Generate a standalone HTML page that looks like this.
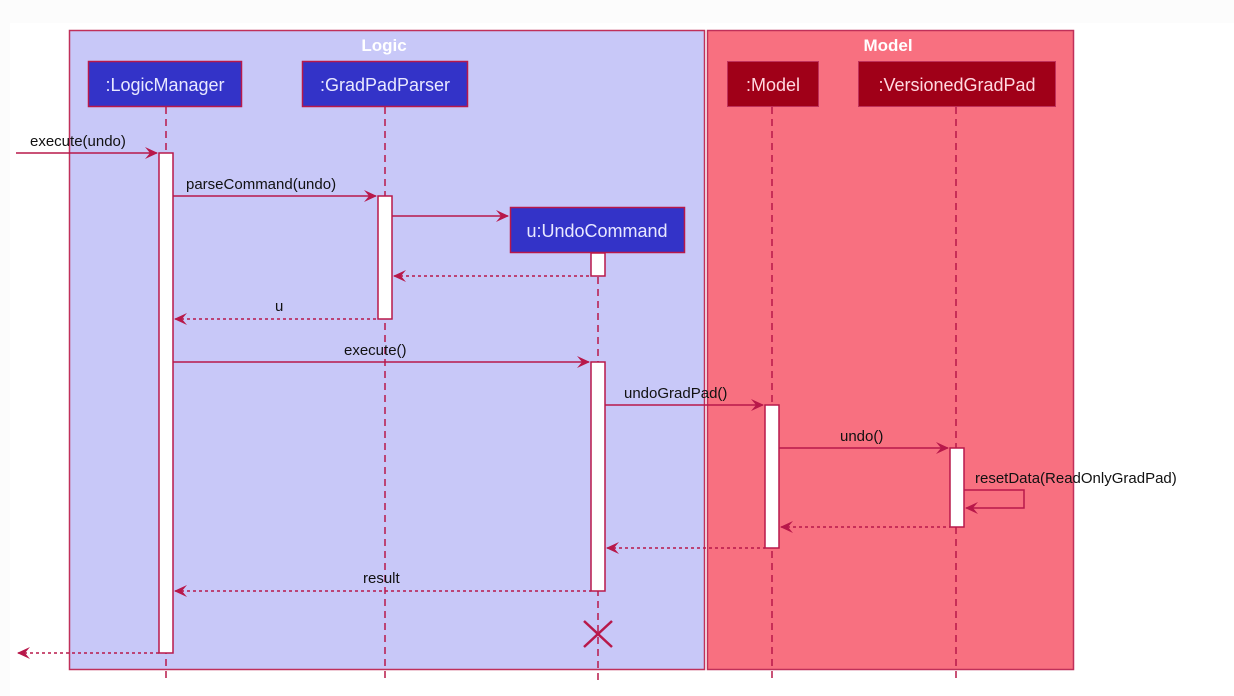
<!DOCTYPE html>
<html><head><meta charset="utf-8"><style>
html,body{margin:0;padding:0;background:#fcfcfc;}
svg{display:block;font-family:"Liberation Sans",sans-serif;}
</style></head><body>
<svg width="1234" height="696" viewBox="0 0 1234 696" xmlns="http://www.w3.org/2000/svg">
<rect x="10" y="23" width="1224" height="673" fill="#ffffff"/>
<rect x="69.5" y="30.5" width="635" height="639" fill="#c8c8f8" stroke="#c0305a" stroke-width="1.5"/>
<rect x="707.5" y="30.5" width="366" height="639" fill="#f87080" stroke="#c0305a" stroke-width="1.5"/>
<text x="384" y="51" text-anchor="middle" font-size="17" font-weight="bold" fill="#ffffff">Logic</text>
<text x="888" y="51" text-anchor="middle" font-size="17" font-weight="bold" fill="#ffffff">Model</text>
<g stroke="#b8184a" stroke-width="1.5" stroke-dasharray="7,5" fill="none">
<line x1="166" y1="107" x2="166" y2="680"/>
<line x1="385" y1="107" x2="385" y2="680"/>
<line x1="598" y1="253" x2="598" y2="680"/>
<line x1="772" y1="107" x2="772" y2="680"/>
<line x1="956" y1="107" x2="956" y2="680"/>
</g>
<g font-size="18" fill="#e8e8ff" text-anchor="middle">
<rect x="88.5" y="61.5" width="153" height="45" fill="#3333c8" stroke="#b8184a" stroke-width="1.5"/>
<text x="165" y="91">:LogicManager</text>
<rect x="302.5" y="61.5" width="165" height="45" fill="#3333c8" stroke="#b8184a" stroke-width="1.5"/>
<text x="385" y="91">:GradPadParser</text>
<rect x="510.5" y="207.5" width="174" height="45" fill="#3333c8" stroke="#b8184a" stroke-width="1.5"/>
<text x="597" y="237">u:UndoCommand</text>
<rect x="727.5" y="61.5" width="91" height="45" fill="#a00018" stroke="#c0305a" stroke-width="1"/>
<text x="773" y="91" fill="#ffd8e0">:Model</text>
<rect x="858.5" y="61.5" width="197" height="45" fill="#a00018" stroke="#c0305a" stroke-width="1"/>
<text x="957" y="91" fill="#ffd8e0">:VersionedGradPad</text>
</g>
<g fill="#ffffff" stroke="#b8184a" stroke-width="1.5">
<rect x="159" y="153" width="14" height="500"/>
<rect x="378" y="196" width="14" height="123"/>
<rect x="591" y="253" width="14" height="23"/>
<rect x="591" y="362" width="14" height="229"/>
<rect x="765" y="405" width="14" height="143"/>
<rect x="950" y="448" width="14" height="79"/>
</g>
<g stroke="#b8184a" stroke-width="1.5" fill="none">
<line x1="16" y1="153" x2="157" y2="153"/>
<line x1="173" y1="196" x2="376" y2="196"/>
<line x1="392" y1="216" x2="508" y2="216"/>
<line x1="173" y1="362" x2="589" y2="362"/>
<line x1="605" y1="405" x2="763" y2="405"/>
<line x1="779" y1="448" x2="948" y2="448"/>
<polyline points="964,490 1024,490 1024,508 966,508"/>
</g>
<g stroke="#b8184a" stroke-width="1.5" stroke-dasharray="3,3" fill="none">
<line x1="394" y1="276" x2="591" y2="276"/>
<line x1="175" y1="319" x2="378" y2="319"/>
<line x1="781" y1="527" x2="950" y2="527"/>
<line x1="607" y1="548" x2="765" y2="548"/>
<line x1="175" y1="591" x2="591" y2="591"/>
<line x1="18" y1="653" x2="159" y2="653"/>
</g>
<g fill="#b8184a">
<polygon points="158,153 145,147 150,153 145,159"/>
<polygon points="377,196 364,190 369,196 364,202"/>
<polygon points="509,216 496,210 501,216 496,222"/>
<polygon points="590,362 577,356 582,362 577,368"/>
<polygon points="764,405 751,399 756,405 751,411"/>
<polygon points="949,448 936,442 941,448 936,454"/>
<polygon points="965,508 978,502 973,508 978,514"/>
<polygon points="393,276 406,270 401,276 406,282"/>
<polygon points="174,319 187,313 182,319 187,325"/>
<polygon points="780,527 793,521 788,527 793,533"/>
<polygon points="606,548 619,542 614,548 619,554"/>
<polygon points="174,591 187,585 182,591 187,597"/>
<polygon points="17,653 30,647 25,653 30,659"/>
</g>
<g stroke="#b8184a" stroke-width="2.5">
<line x1="584" y1="621" x2="612" y2="647"/>
<line x1="612" y1="621" x2="584" y2="647"/>
</g>
<g font-size="15" fill="#111">
<text x="30" y="146">execute(undo)</text>
<text x="186" y="189">parseCommand(undo)</text>
<text x="275" y="311">u</text>
<text x="344" y="355">execute()</text>
<text x="624" y="398">undoGradPad()</text>
<text x="840" y="441">undo()</text>
<text x="975" y="483">resetData(ReadOnlyGradPad)</text>
<text x="363" y="583">result</text>
</g>
</svg>
</body></html>
